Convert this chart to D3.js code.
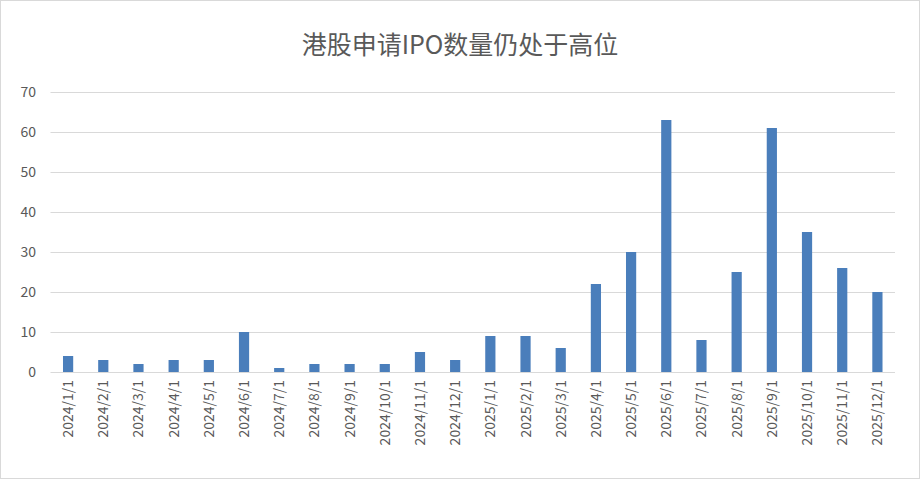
<!DOCTYPE html>
<html><head><meta charset="utf-8">
<script src="https://cdn.jsdelivr.net/npm/d3@7"></script>
<style>body{margin:0;background:#fff}svg{display:block}</style>
</head><body><svg id="c" width="920" height="479"></svg>
<script>
const categories=["2024/1/1","2024/2/1","2024/3/1","2024/4/1","2024/5/1","2024/6/1","2024/7/1","2024/8/1","2024/9/1","2024/10/1","2024/11/1","2024/12/1","2025/1/1","2025/2/1","2025/3/1","2025/4/1","2025/5/1","2025/6/1","2025/7/1","2025/8/1","2025/9/1","2025/10/1","2025/11/1","2025/12/1"];
const values=[4,3,2,3,3,10,1,2,2,2,5,3,9,9,6,22,30,63,8,25,61,35,26,20];
const yTicks=[0,10,20,30,40,50,60,70];
const title="港股申请IPO数量仍处于高位";
const svg=d3.select("#c");
const font="'Noto Sans CJK SC','Microsoft YaHei',sans-serif";
svg.append("rect").attr("x",0.5).attr("y",0.5).attr("width",919).attr("height",478).attr("fill","#fff").attr("stroke","#d9d9d9");
svg.append("text").attr("x",460).attr("y",54).attr("text-anchor","middle").attr("font-family",font).attr("font-size",25).attr("fill","#595959").text(title);
const x=d3.scaleBand().domain(categories).range([50.5,895]).paddingInner(0.71).paddingOuter(0.355);
const y=d3.scaleLinear().domain([0,70]).range([372,92]);
const g=svg.append("g");
g.selectAll("line.grid").data(yTicks).join("line").attr("x1",50.5).attr("x2",895).attr("y1",d=>y(d)+0.5).attr("y2",d=>y(d)+0.5).attr("stroke","#d9d9d9");
g.selectAll("text.yt").data(yTicks).join("text").attr("x",36).attr("y",d=>y(d)+5).attr("text-anchor","end").attr("font-family",font).attr("font-size",14).attr("fill","#595959").text(d=>d);
g.selectAll("rect.bar").data(values).join("rect").attr("x",(d,i)=>x(categories[i])).attr("width",x.bandwidth()).attr("y",d=>y(d)).attr("height",d=>y(0)-y(d)).attr("fill","#4a7ebb");
g.selectAll("text.xt").data(categories).join("text").attr("transform",d=>`translate(${x(d)+x.bandwidth()/2+5},380) rotate(-90)`).attr("text-anchor","end").attr("font-family",font).attr("font-size",14).attr("fill","#595959").text(d=>d);
</script></body></html>
